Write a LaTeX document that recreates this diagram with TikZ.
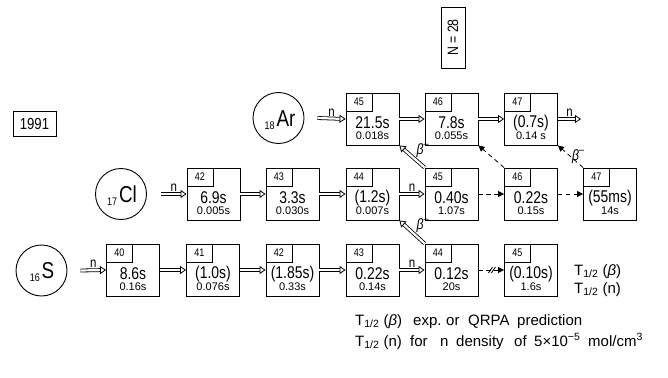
\documentclass[tikz,border=0pt]{standalone}
\usepackage{fontspec}
\setmainfont[FakeStretch=0.82]{Liberation Sans}
\newfontfamily\widefont{Liberation Sans}
\usetikzlibrary{arrows.meta,calc}
\newcommand\fs[1]{\fontsize{#1}{#1}\selectfont}
\newcommand\betam{\itshape β\upshape\raisebox{0.45em}{\fs{11}–}}
\tikzset{
  nbox/.style={draw, line width=0.9pt, minimum width=53pt, minimum height=52pt, inner sep=0pt},
  lbox/.style={draw, line width=0.8pt, minimum width=26pt, minimum height=18pt, inner sep=0pt, font=\fs{11}},
  mtext/.style={inner sep=0pt, font=\fs{17}},
  stext/.style={inner sep=0pt, font=\widefont\fs{11}},
  elem/.style={draw, circle, line width=0.9pt, minimum size=51pt, inner sep=0pt},
  dbl/.style={double, double distance=2.2pt, line width=0.8pt, -{Triangle[open,length=6pt,width=8pt,line width=0.8pt]}},
  dsh/.style={dashed, dash pattern=on 4.5pt off 3.5pt, line width=0.8pt, -{Triangle[length=6pt,width=6pt]}},
  lab/.style={inner sep=1pt, font=\fs{14}},
  blab/.style={inner sep=0pt, anchor=south west, font=\fs{15}},
  btxt/.style={inner sep=0pt, anchor=base west, font=\widefont\fs{15}},
}
\newcommand\nuc[6]{%
  \node[nbox] (#1) at (#2+26.5,#3+26) {};
  \node[lbox, anchor=north west] (#1l) at (#1.north west) {#4};
  \node[mtext] (#1m) at (#2+26.5,#3+30) {#5};
  \node[stext] (#1s) at (#2+26.5,#3+43) {#6};
}
\begin{document}
\begin{tikzpicture}[x=1pt,y=-1pt]
\useasboundingbox[fill=white] (0,0) rectangle (668,377);

% year and N=28
\node[draw, line width=0.9pt, minimum width=43pt, minimum height=25pt, inner sep=0pt, font=\fs{16}] (year) at (34.5,123.5) {1991};
\node[draw, line width=0.9pt, minimum width=61pt, minimum height=24pt, inner sep=0pt, rotate=90, font=\fs{15}] (n28) at (453,37.5) {N = 28};

% elements
\node[elem] (ar) at (278.5,118) {};
\node[inner sep=0pt] (art) at (280,120) {\fs{11}\raisebox{-3pt}{18}\,\fs{23}Ar};
\node[elem] (cl) at (121,194) {};
\node[inner sep=0pt] (clt) at (122,196) {\fs{11}\raisebox{-3pt}{17}\,\fs{23}Cl};
\node[elem] (s) at (41.5,270.5) {};
\node[inner sep=0pt] (st) at (42,272) {\fs{11}\raisebox{-3pt}{16}\,\fs{23}S};

% Ar row
\nuc{ar45}{346}{93}{45}{21.5s}{0.018s}
\nuc{ar46}{425}{93}{46}{7.8s}{0.055s}
\nuc{ar47}{504.5}{93}{47}{(0.7s)}{0.14 s}
% Cl row
\nuc{cl42}{187}{168}{42}{6.9s}{0.005s}
\nuc{cl43}{266}{168}{43}{3.3s}{0.030s}
\nuc{cl44}{346}{168}{44}{(1.2s)}{0.007s}
\nuc{cl45}{425}{168}{45}{0.40s}{1.07s}
\nuc{cl46}{504.5}{168}{46}{0.22s}{0.15s}
\nuc{cl47}{583.5}{168}{47}{(55ms)}{14s}
% S row
\nuc{s40}{106.5}{244}{40}{8.6s}{0.16s}
\nuc{s41}{186.5}{244}{41}{(1.0s)}{0.076s}
\nuc{s42}{266}{244}{42}{(1.85s)}{0.33s}
\nuc{s43}{346}{244}{43}{0.22s}{0.14s}
\nuc{s44}{425}{244}{44}{0.12s}{20s}
\nuc{s45}{504.5}{244}{45}{(0.10s)}{1.6s}

% capture arrows from elements
\draw[dbl] ([xshift=13pt]ar.east) -- node[lab, above=1pt] (nar) {n} (ar45.west);
\draw[dbl] ([xshift=14pt]cl.east) -- node[lab, above=1pt] (ncl) {n} (cl42.west);
\draw[dbl] ([xshift=13pt]s.east) -- node[lab, above=1pt] (ns) {n} (s40.west);

% Ar row arrows
\draw[dbl] (ar45.east) -- (ar46.west);
\draw[dbl] (ar46.east) -- (ar47.west);
\coordinate (arout) at (581,119);
\draw[dbl] (ar47.east) -- node[lab, above=1pt] (nout) {n} (arout);

% Cl row arrows
\draw[dbl] (cl42.east) -- (cl43.west);
\draw[dbl] (cl43.east) -- (cl44.west);
\draw[dbl] (cl44.east) -- node[lab, above=1pt] (ncl44) {n} (cl45.west);
\draw[dsh] (cl45.east) -- (cl46.west);
\draw[dsh] (cl46.east) -- (cl47.west);

% S row arrows
\draw[dbl] (s40.east) -- (s41.west);
\draw[dbl] (s41.east) -- (s42.west);
\draw[dbl] (s42.east) -- (s43.west);
\draw[dbl] (s43.east) -- node[lab, above=1pt] (ns43) {n} (s44.west);
\draw[dsh] (s44.east) -- (s45.west);
\draw[line width=0.8pt] ($(s44.east)+(10,3)$) -- ++(4,-6) ($(s44.east)+(13,3)$) -- ++(4,-6);

% beta decays
\draw[dbl] (s44.north west) -- node[blab, pos=0.45, xshift=3pt] (b1) {\betam} (cl44.south east);
\draw[dbl] (cl45.north west) -- node[blab, pos=0.45, xshift=3pt] (b2) {\betam} (ar45.south east);
\draw[dsh] (cl46.north west) -- (ar46.south east);
\draw[dsh] (cl47.north west) -- node[blab, pos=0.45, xshift=0pt, yshift=-6pt] (b3) {\betam} (ar47.south east);

% legend at right
\node[btxt] (l1) at (574,275) {T\textsubscript{1/2} (\itshape β\upshape)};
\node[btxt] (l2) at (574,293) {T\textsubscript{1/2} (n)};

% bottom notes
\node[btxt] (f1a) at (355,325) {T\textsubscript{1/2} (\itshape β\upshape)};
\node[btxt] (f1b) at (413,325) {exp.};
\node[btxt] (f1c) at (446,325) {or};
\node[btxt] (f1d) at (468,325) {QRPA};
\node[btxt] (f1e) at (517,325) {prediction};
\node[btxt] (f2a) at (355,346) {T\textsubscript{1/2} (n)};
\node[btxt] (f2b) at (410,346) {for};
\node[btxt] (f2c) at (440,346) {n};
\node[btxt] (f2d) at (456,346) {density};
\node[btxt] (f2e) at (514,346) {of};
\node[btxt] (f2f) at (534,346) {5×10\textsuperscript{−5}};
\node[btxt] (f2g) at (588,346) {mol/cm\textsuperscript{3}};
\end{tikzpicture}
\end{document}
